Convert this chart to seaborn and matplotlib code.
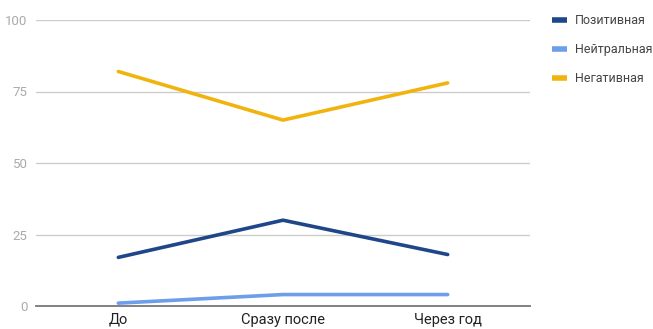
import matplotlib
matplotlib.use("Agg")
import matplotlib.pyplot as plt
import seaborn as sns
import pandas as pd
from matplotlib.lines import Line2D

categories = ["До", "Сразу после", "Через год"]
series_names = ["Позитивная", "Нейтральная", "Негативная"]
positive = [17, 30, 18]
neutral = [1, 4, 4]
negative = [82, 65, 78]
yticks = [0, 25, 50, 75, 100]
colors = ["#1f4688", "#6d9eeb", "#f1b40f"]

df = pd.DataFrame({
    "period": categories * 3,
    "value": positive + neutral + negative,
    "series": [series_names[0]] * 3 + [series_names[1]] * 3 + [series_names[2]] * 3,
})

sns.set_style("white")
plt.rcParams["font.family"] = ["Roboto", "DejaVu Sans"]

fig = plt.figure(figsize=(6.53, 3.29), dpi=100)
ax = fig.add_axes([36 / 653, 23 / 329, 494 / 653, 286 / 329])

sns.lineplot(data=df, x="period", y="value", hue="series", palette=colors,
             linewidth=2.6, ax=ax, legend=False, sort=False)

ax.set_xlim(-0.5, 2.5)
ax.set_ylim(0, 100)
ax.set_yticks(yticks)
ax.set_yticklabels([str(t) for t in yticks])
ax.set_xlabel("")
ax.set_ylabel("")
for s in ["top", "right", "left"]:
    ax.spines[s].set_visible(False)
ax.spines["bottom"].set_color("#777777")
ax.spines["bottom"].set_linewidth(1.3)
ax.grid(axis="y", color="#cccccc", linewidth=1)
ax.set_axisbelow(True)
ax.tick_params(axis="y", length=0, labelsize=9.5, labelcolor="#aaaaaa", pad=6)
ax.tick_params(axis="x", length=0, labelsize=10.5, labelcolor="#222222", pad=5)

handles = [Line2D([0], [0], color=c, linewidth=4, solid_capstyle="butt") for c in colors]
fig.legend(handles, series_names, loc="upper left", bbox_to_anchor=(552 / 653, 1 - 14 / 329),
           frameon=False, fontsize=9, handlelength=1.2, handletextpad=0.6,
           labelspacing=1.3, labelcolor="#444444", borderpad=0, borderaxespad=0)

fig.savefig("out.png", dpi=100)
